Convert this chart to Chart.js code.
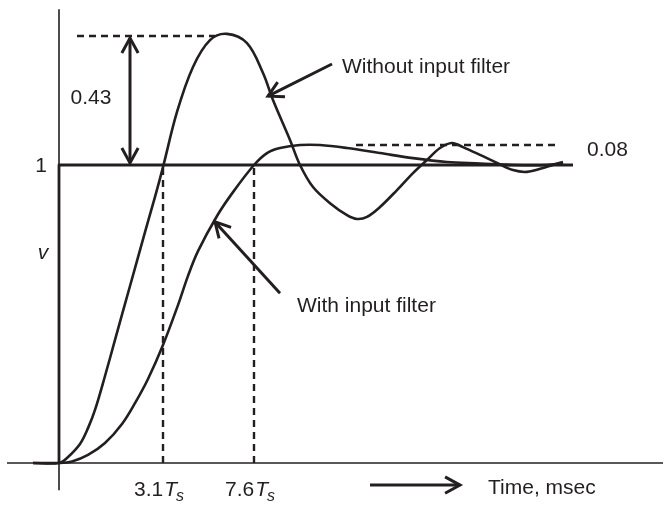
<!DOCTYPE html>
<html>
<head>
<meta charset="utf-8">
<script src="https://cdn.jsdelivr.net/npm/chart.js@4/dist/chart.umd.min.js"></script>
<style>
  html, body { margin: 0; padding: 0; background: #ffffff; }
  #wrap { width: 663px; height: 505px; }
</style>
</head>
<body>
<div id="wrap"><canvas id="chart" width="663" height="505"></canvas></div>
<script>
/* step response, with and without input filter */

const INK = "#231f20";

// response without input filter
const timeNoFilter = [-2.6, 0, 0.8, 2.1, 2.9, 3.6, 4.6, 5.6, 6.6, 7.6, 8.6, 9.6, 10.4, 11.8, 13.4, 15.1, 16.8, 18.8, 20.4, 21.4, 23.1, 24.1, 25.4, 27.1, 28.8, 29.8, 30.8, 32.1, 33.8, 35.4, 36.8, 38.1, 39.3, 40.4, 42.1, 43.8, 45.4, 46.8, 48.4, 50.4];
const vNoFilter = [0, 0, 0.017, 0.064, 0.117, 0.178, 0.292, 0.413, 0.534, 0.654, 0.775, 0.893, 0.993, 1.178, 1.329, 1.419, 1.44, 1.409, 1.309, 1.218, 1.084, 1.0, 0.926, 0.872, 0.832, 0.819, 0.826, 0.859, 0.916, 0.973, 1.017, 1.057, 1.074, 1.06, 1.034, 1.007, 0.983, 0.977, 0.99, 1.01];

// response with input filter
const timeFilter = [-2.6, 0, 1.3, 2.9, 4.6, 6.3, 7.6, 8.9, 10.4, 11.9, 12.9, 13.9, 15.8, 17.4, 19.5, 20.8, 22.1, 24.1, 26.1, 28.8, 32.1, 35.4, 38.8, 42.1, 45.4, 48.8, 50.4];
const vFilter = [0, 0, 0.005, 0.027, 0.067, 0.131, 0.201, 0.282, 0.396, 0.53, 0.628, 0.711, 0.829, 0.909, 1.0, 1.04, 1.057, 1.067, 1.067, 1.057, 1.04, 1.023, 1.01, 1.005, 1.0, 1.0, 1.007];

// reference step and markers
const stepTime = [0, 0, 51.4];
const stepValue = [0, 1, 1];
const peakLevel = 1.433;
const settleLevel = 1.067;
const markTimes = [10.4, 19.5];
const markLabels = ["3.1", "7.6"];

// arrows: [x0, y0, x1, y1, double-headed]
const arrows = [
    [7.1, 1.007, 7.1, 1.426, true],
    [27.3, 1.339, 20.9, 1.231, false],
    [22.1, 0.57, 15.6, 0.809, false],
    [31.1, -0.074, 40.1, -0.074, false]
];

function pts(xs, ys) {
    return xs.map((x, i) => ({ x: x, y: ys[i] }));
}

function seg(x0, y0, x1, y1) {
    return [{ x: x0, y: y0 }, { x: x1, y: y1 }];
}

function lineSet(data, width, dash, tension) {
    return {
        data: data,
        showLine: true,
        borderColor: INK,
        borderWidth: width,
        borderDash: dash || [],
        pointRadius: 0,
        tension: tension || 0,
        borderCapStyle: "butt",
        borderJoinStyle: "round",
        fill: false
    };
}

const datasets = [
    lineSet(seg(-5.2, 0, 60.4, 0), 1.6),
    lineSet(seg(0, -0.091, 0, 1.523), 1.6),
    lineSet(pts(stepTime, stepValue), 2.8),
    lineSet(seg(1.8, peakLevel, 15.6, peakLevel), 2.4, [7, 5]),
    lineSet(seg(29.7, settleLevel, 49.6, settleLevel), 2.4, [7, 5]),
    lineSet(pts(timeNoFilter, vNoFilter), 2.6, null, 0.35),
    lineSet(pts(timeFilter, vFilter), 2.6, null, 0.35)
];

markTimes.forEach(t => {
    datasets.push(lineSet(seg(t, 0, t, 1), 2.4, [7, 5]));
});

arrows.forEach(a => {
    datasets.push(lineSet(seg(a[0], a[1], a[2], a[3]), 3));
});

const texts = [
    ["0.43", 3.2, 1.225, false],
    ["1", -1.8, 0.997, false],
    ["v", -1.6, 0.705, true],
    ["Without input filter", 28.3, 1.329, false, "left"],
    ["With input filter", 23.8, 0.527, false, "left"],
    ["0.08", 52.8, 1.05, false, "left"],
    ["Time, msec", 42.9, -0.084, false, "left"]
];

const FONT = "Liberation Sans, Arial, Helvetica, sans-serif";
const SIZE = 21;

function head(ctx, px, py, fromX, fromY) {
    const ang = Math.atan2(py - fromY, px - fromX);
    const len = 17;
    const spread = 0.5;
    ctx.beginPath();
    ctx.moveTo(px - len * Math.cos(ang - spread), py - len * Math.sin(ang - spread));
    ctx.lineTo(px, py);
    ctx.lineTo(px - len * Math.cos(ang + spread), py - len * Math.sin(ang + spread));
    ctx.stroke();
}

const decor = {
    id: "decor",
    afterDatasetsDraw(chart) {
        const ctx = chart.ctx;
        const xs = chart.scales.x;
        const ys = chart.scales.y;
        ctx.save();
        ctx.strokeStyle = INK;
        ctx.lineWidth = 3;
        ctx.lineJoin = "miter";
        arrows.forEach(a => {
            const x0 = xs.getPixelForValue(a[0]);
            const y0 = ys.getPixelForValue(a[1]);
            const x1 = xs.getPixelForValue(a[2]);
            const y1 = ys.getPixelForValue(a[3]);
            head(ctx, x1, y1, x0, y0);
            if (a[4]) head(ctx, x0, y0, x1, y1);
        });

        ctx.fillStyle = INK;
        ctx.textBaseline = "middle";
        texts.forEach(t => {
            ctx.font = (t[3] ? "italic " : "") + SIZE + "px " + FONT;
            ctx.textAlign = t[4] || "center";
            ctx.fillText(t[0], xs.getPixelForValue(t[1]), ys.getPixelForValue(t[2]));
        });

        // tick labels like 3.1Ts
        const ty = ys.getPixelForValue(-0.091);
        markTimes.forEach((t, i) => {
            ctx.font = SIZE + "px " + FONT;
            const w1 = ctx.measureText(markLabels[i]).width;
            ctx.font = "italic " + SIZE + "px " + FONT;
            const w2 = ctx.measureText("T").width;
            ctx.font = "italic 16px " + FONT;
            const w3 = ctx.measureText("s").width;
            let x = xs.getPixelForValue(t) - 4 - (w1 + w2 + w3) / 2;
            ctx.textAlign = "left";
            ctx.font = SIZE + "px " + FONT;
            ctx.fillText(markLabels[i], x, ty);
            x += w1 + 1;
            ctx.font = "italic " + SIZE + "px " + FONT;
            ctx.fillText("T", x, ty);
            x += w2 - 1;
            ctx.font = "italic 16px " + FONT;
            ctx.fillText("s", x, ty + 6);
        });
        ctx.restore();
    }
};

new Chart(document.getElementById("chart").getContext("2d"), {
    type: "scatter",
    data: { datasets: datasets },
    options: {
        responsive: false,
        animation: false,
        layout: { padding: 0 },
        scales: {
            x: { type: "linear", min: -5.9, max: 60.4, display: false },
            y: { type: "linear", min: -0.1409, max: 1.5537, display: false }
        },
        plugins: {
            legend: { display: false },
            tooltip: { enabled: false }
        }
    },
    plugins: [decor]
});
</script>
</body>
</html>
